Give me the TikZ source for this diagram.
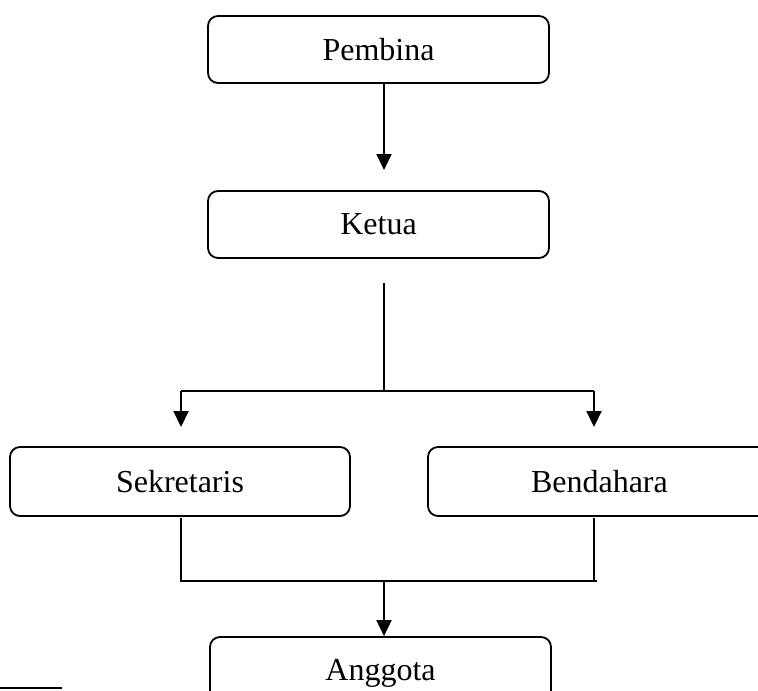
\documentclass[tikz,border=0pt]{standalone}
\usepackage{fontspec}
\setmainfont{Liberation Serif}
\usetikzlibrary{arrows.meta}
\begin{document}
\begin{tikzpicture}[x=1pt,y=-1pt,
  orgbox/.style={draw=black, line width=1.8pt, rounded corners=10pt, inner sep=0pt,
    font=\fontsize{32}{38}\selectfont, text=black},
  conn/.style={line width=2pt, draw=black},
  arr/.style={conn, -{Triangle[length=16pt,width=15pt]}}]
\useasboundingbox (0,0) rectangle (758,691);
\clip (0,0) rectangle (758,691);
\node[orgbox, minimum width=341pt, minimum height=67pt] (pembina) at (378.5,49.5) {Pembina};
\node[orgbox, minimum width=341pt, minimum height=67pt] (ketua) at (378.5,224.5) {Ketua};
\node[orgbox, minimum width=340pt, minimum height=69pt] (sekretaris) at (180,481.5) {Sekretaris};
\node[orgbox, minimum width=360pt, minimum height=69pt, text width=340pt, align=left] (bendahara) at (608,481.5) {\hspace{93pt}\raisebox{-2pt}{Bendahara}};
\node[orgbox, minimum width=341pt, minimum height=72pt] (anggota) at (380.5,673) {Anggota};
% coordinates
\coordinate (p1) at (384,83);
\coordinate (k1) at (384,283);
\coordinate (k2) at (384,391);
\coordinate (hl) at (181,391);
\coordinate (hr) at (594,391);
\coordinate (sl) at (181,518);
\coordinate (sr) at (594,518);
\coordinate (jl) at (181,581);
\coordinate (jr) at (597,581);
\coordinate (jm) at (384,581);
\coordinate (bl1) at (0,688);
\coordinate (bl2) at (62,688);
\draw[arr] (p1) -- (384,170);
\draw[conn] (k1) -- (k2);
\draw[conn] (hl) -- (hr);
\draw[arr] (hl) -- (181,427);
\draw[arr] (hr) -- (594,427);
\draw[conn] (sl) -- (jl) -- (jr);
\draw[conn] (sr) -- (594,581);
\draw[arr] (jm) -- (jm |- anggota.north);
\draw[conn] (bl1) -- (bl2);
\end{tikzpicture}
\end{document}
